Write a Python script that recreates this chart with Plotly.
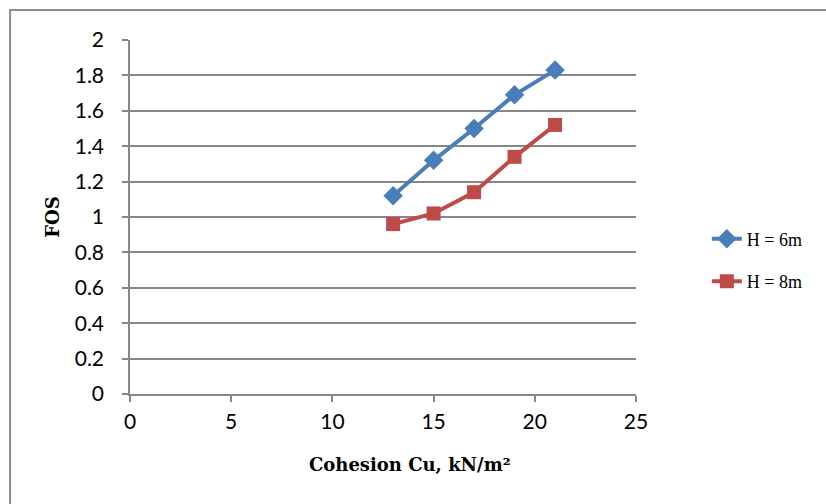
import plotly.graph_objects as go

cohesion = [13, 15, 17, 19, 21]
fos_h6 = [1.12, 1.32, 1.50, 1.69, 1.83]
fos_h8 = [0.96, 1.02, 1.14, 1.34, 1.52]
series_names = ["H = 6m", "H = 8m"]
x_ticks = [0, 5, 10, 15, 20, 25]
y_ticks = [0, 0.2, 0.4, 0.6, 0.8, 1, 1.2, 1.4, 1.6, 1.8, 2]

blue = "#4A7EBB"
red = "#BE4B48"
grid = "#878787"

fig = go.Figure()
fig.add_trace(go.Scatter(x=cohesion, y=fos_h6, mode="lines+markers", name=series_names[0],
                         legendgroup="a",
                         line=dict(color=blue, width=4),
                         marker=dict(symbol="diamond", size=15, color=blue)))
fig.add_trace(go.Scatter(x=cohesion, y=fos_h8, mode="lines+markers", name=series_names[1],
                         legendgroup="b",
                         line=dict(color=red, width=4),
                         marker=dict(symbol="square", size=14, color=red)))

tickfont = dict(family="Lato, Open Sans, sans-serif", size=21, color="#000000")
titlefont = dict(family="DejaVu Serif, Liberation Serif, serif", size=18, color="#000000", weight="bold")

fig.update_layout(
    width=826, height=504,
    margin=dict(l=130, r=190, t=40, b=110),
    paper_bgcolor="white", plot_bgcolor="white",
    showlegend=True,
    legend=dict(x=1.14, y=0.49, xanchor="left", yanchor="top",
                font=dict(family="Liberation Serif, DejaVu Serif, serif", size=18, color="#000"),
                tracegroupgap=16, bgcolor="rgba(0,0,0,0)"),
    xaxis=dict(range=[0, 25], tickvals=x_ticks, showgrid=False, zeroline=False,
               showline=True, linecolor=grid, linewidth=1.5,
               ticks="outside", ticklen=6, tickcolor=grid, tickwidth=1.5,
               tickfont=tickfont, ticklabelstandoff=2),
    yaxis=dict(range=[0, 2], tickvals=y_ticks, ticktext=[f"{v:g}" for v in y_ticks],
               showgrid=True, gridcolor=grid, gridwidth=1.5, zeroline=False,
               showline=True, linecolor=grid, linewidth=1.5,
               ticks="outside", ticklen=6, tickcolor=grid, tickwidth=1.5,
               tickfont=tickfont, ticklabelstandoff=14,
               title=dict(text="FOS", font=titlefont, standoff=10)),
)

fig.add_annotation(text="Cohesion Cu, kN/m²", xref="paper", yref="paper",
                   x=0.553, y=-0.2, xanchor="center", yanchor="middle",
                   showarrow=False, font=titlefont)

fig.add_shape(type="rect", xref="paper", yref="paper",
              x0=-0.237, x1=1.4, y0=-0.35, y1=1.0847,
              line=dict(color="#8c8c8c", width=2), fillcolor="rgba(0,0,0,0)", layer="below")

fig.write_html("out.html")
